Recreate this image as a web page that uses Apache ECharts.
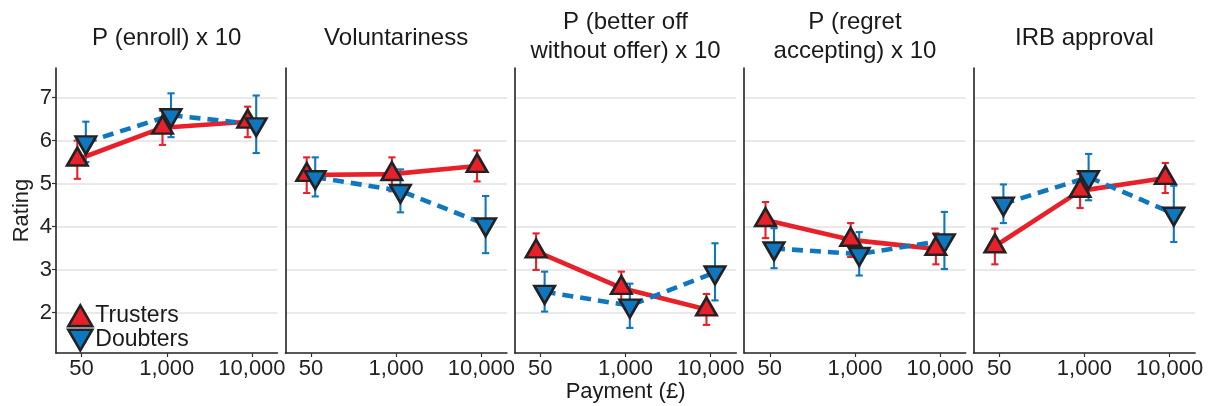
<!DOCTYPE html>
<html><head><meta charset="utf-8">
<script src="https://cdn.jsdelivr.net/npm/echarts@6/dist/echarts.min.js"></script>
<style>html,body{margin:0;padding:0;background:#fff}#c{width:1208px;height:406px}</style>
</head><body><div id="c"></div>
<script>
// ---------- data ----------
const payments = ['50', '1,000', '10,000'];
const panelTitles = ['P (enroll) x 10', 'Voluntariness', 'P (better off\nwithout offer) x 10', 'P (regret\naccepting) x 10', 'IRB approval'];
const groupNames = ['Trusters', 'Doubters'];
const yTicks = [2, 3, 4, 5, 6, 7];
const xAxisTitle = 'Payment (£)';
const yAxisTitle = 'Rating';
// rows = panels, columns = payments (50, 1,000, 10,000)
const trustersMean = [[5.56, 6.30, 6.44], [5.20, 5.22, 5.41], [3.42, 2.57, 2.07], [4.15, 3.69, 3.48], [3.54, 4.83, 5.13]];
const trustersLow  = [[5.11, 5.90, 6.08], [4.78, 4.82, 5.05], [2.99, 2.19, 1.71], [3.73, 3.29, 3.12], [3.12, 4.43, 4.78]];
const trustersHigh = [[6.00, 6.70, 6.79], [5.61, 5.61, 5.77], [3.84, 2.95, 2.43], [4.57, 4.08, 3.84], [3.95, 5.22, 5.48]];
const doubtersMean = [[5.96, 6.59, 6.38], [5.15, 4.83, 4.05], [2.48, 2.16, 2.93], [3.49, 3.36, 3.68], [4.53, 5.15, 4.30]];
const doubtersLow  = [[5.50, 6.08, 5.71], [4.70, 4.33, 3.38], [2.02, 1.64, 2.28], [3.03, 2.86, 3.01], [4.08, 4.61, 3.64]];
const doubtersHigh = [[6.44, 7.10, 7.05], [5.61, 5.33, 4.71], [2.95, 2.67, 3.61], [3.96, 3.87, 4.34], [4.98, 5.69, 4.95]];

// ---------- style / layout ----------
const FONT = '"Liberation Sans", Arial, Helvetica, sans-serif';
const RED = '#E8202A', BLUE = '#0F77C0', EDGE = '#222222';
const panelLeft0 = 56, panelW = 221.5, panelStep = 229.4;
const gridTop = 68, gridBottom = 53;
const yMin = 1.056, yMax = 7.69;
const xMin = 0.7, xMax = 3.3, dodge = 0.05;
const triW = 20.5, triH = 17.8;
const UP = 'path://M10,0L20,17.32L0,17.32Z';
const DOWN = 'path://M0,0L20,0L10,17.32Z';

const groups = [
  {name: groupNames[0], mean: trustersMean, low: trustersLow, high: trustersHigh, color: RED, off: -dodge, sym: UP, symOff: -triH / 6, dash: 'solid'},
  {name: groupNames[1], mean: doubtersMean, low: doubtersLow, high: doubtersHigh, color: BLUE, off: dodge, sym: DOWN, symOff: triH / 6, dash: [11, 7]}
];

const grids = [], xAxes = [], yAxes = [], series = [], graphics = [];
panelTitles.forEach((t, i) => {
  const left = panelLeft0 + i * panelStep;
  grids.push({left: left, width: panelW, top: gridTop, bottom: gridBottom, containLabel: false, outerBoundsMode: 'none'});
  xAxes.push({
    type: 'value', gridIndex: i, min: xMin, max: xMax,
    axisLine: {show: true, onZero: false, lineStyle: {color: EDGE, width: 1.6}},
    axisTick: {show: true, length: 4, customValues: [1, 2, 3], lineStyle: {color: '#333', width: 1.2}},
    axisLabel: {show: true, customValues: [1, 2, 3], formatter: v => payments[Math.round(v) - 1], fontSize: 22, color: '#222', margin: 5, fontFamily: FONT},
    splitLine: {show: false}
  });
  yAxes.push({
    type: 'value', gridIndex: i, min: yMin, max: yMax,
    axisLine: {show: true, onZero: false, lineStyle: {color: EDGE, width: 1.6}},
    axisTick: {show: i === 0, length: 4, customValues: yTicks, lineStyle: {color: '#333', width: 1.2}},
    axisLabel: {show: i === 0, customValues: yTicks, fontSize: 22, color: '#222', margin: 4, fontFamily: FONT},
    splitLine: {show: true, lineStyle: {color: '#e2e2e2', width: 1.5}},
    name: i === 0 ? yAxisTitle : '', nameLocation: 'middle', nameGap: 23,
    nameTextStyle: {fontSize: 22, color: '#222', fontFamily: FONT}
  });
  graphics.push({
    type: 'text', x: left + panelW / 2, y: t.indexOf('\n') >= 0 ? 37 : 38.5,
    style: {text: t, fill: '#1a1a1a', font: '24px ' + FONT, textAlign: 'center', textVerticalAlign: 'middle', lineHeight: 29}
  });

  groups.forEach(g => {
    // error bars
    series.push({
      type: 'custom', name: g.name + ' err', xAxisIndex: i, yAxisIndex: i, z: 2, silent: true,
      data: payments.map((p, j) => [j + 1 + g.off, g.low[i][j], g.high[i][j]]),
      encode: {x: 0, y: [1, 2]},
      renderItem: (params, api) => {
        const x = api.value(0);
        const p1 = api.coord([x, api.value(1)]);
        const p2 = api.coord([x, api.value(2)]);
        const hw = 3.6;
        const style = {stroke: g.color, lineWidth: 2.1};
        return {type: 'group', children: [
          {type: 'line', shape: {x1: p1[0], y1: p1[1], x2: p2[0], y2: p2[1]}, style: style},
          {type: 'line', shape: {x1: p1[0] - hw, y1: p1[1], x2: p1[0] + hw, y2: p1[1]}, style: style},
          {type: 'line', shape: {x1: p2[0] - hw, y1: p2[1], x2: p2[0] + hw, y2: p2[1]}, style: style}
        ]};
      }
    });
  });
  groups.forEach(g => {
    series.push({
      type: 'line', name: g.name + ' line', xAxisIndex: i, yAxisIndex: i, z: 3, silent: true,
      showSymbol: false, symbol: 'none',
      data: payments.map((p, j) => [j + 1 + g.off, g.mean[i][j]]),
      lineStyle: {color: g.color, width: 4.6, type: g.dash, cap: 'butt'},
      itemStyle: {color: g.color}
    });
  });
  groups.forEach(g => {
    series.push({
      type: 'scatter', name: g.name, xAxisIndex: i, yAxisIndex: i, z: 4, silent: true,
      symbol: g.sym, symbolSize: [triW, triH], symbolOffset: [0, g.symOff],
      data: payments.map((p, j) => [j + 1 + g.off, g.mean[i][j]]),
      itemStyle: {color: g.color, borderColor: EDGE, borderWidth: 2.6, opacity: 1}
    });
  });
});

graphics.push({
  type: 'text', x: panelLeft0 + (4 * panelStep + panelW) / 2, y: 391.5,
  style: {text: xAxisTitle, fill: '#1a1a1a', font: '22px ' + FONT, textAlign: 'center', textVerticalAlign: 'middle'}
});

const chart = echarts.init(document.getElementById('c'), null, {renderer: 'canvas'});
chart.setOption({
  animation: false,
  backgroundColor: '#ffffff',
  grid: grids, xAxis: xAxes, yAxis: yAxes, series: series,
  graphic: graphics,
  legend: {
    orient: 'vertical', left: 67, top: 304, padding: 0,
    itemWidth: 24, itemHeight: 21, itemGap: 1, selectedMode: false,
    textStyle: {fontSize: 23, color: '#1a1a1a', fontFamily: FONT, padding: [0, 0, 0, -2]},
    itemStyle: {borderColor: EDGE, borderWidth: 2.6},
    data: [{name: groupNames[0], icon: UP}, {name: groupNames[1], icon: DOWN}]
  }
});
</script></body></html>
